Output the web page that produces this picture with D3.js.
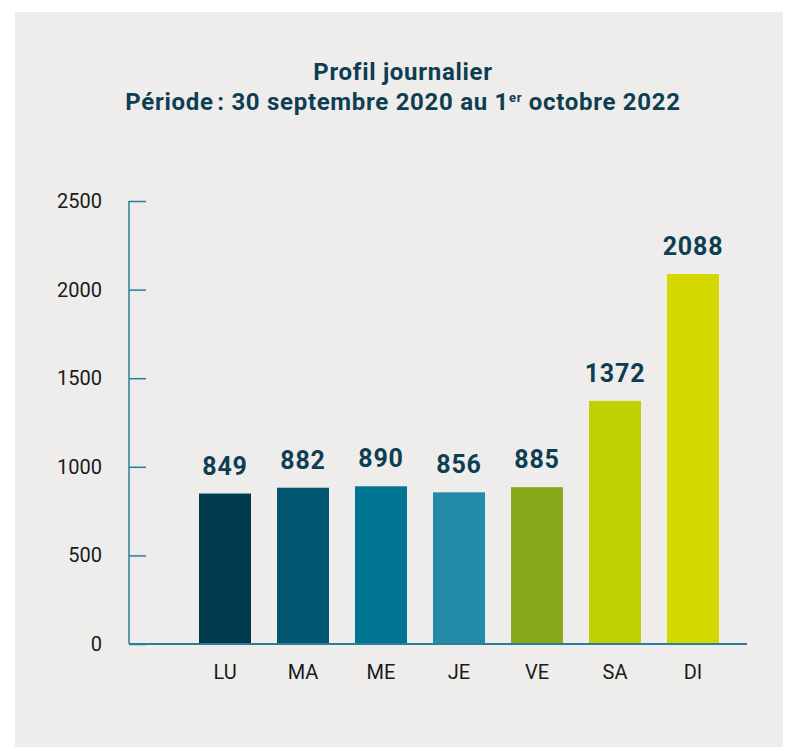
<!DOCTYPE html>
<html>
<head>
<meta charset="utf-8">
<script src="https://cdn.jsdelivr.net/npm/d3@7"></script>
<style>
	body { margin:0; background:#fff; }
	text { font-family: Roboto, "DejaVu Sans", sans-serif; }
</style>
</head>
<body>
<div id="chart"></div>
<script>

// data
const days = ["LU", "MA", "ME", "JE", "VE", "SA", "DI"];
const values = [849, 882, 890, 856, 885, 1372, 2088];
const colors = ["#003b4d", "#00576f", "#007592", "#238ba8", "#8aa81b", "#bfd100", "#d5d800"];
const yTicks = [0, 500, 1000, 1500, 2000, 2500];

//sizing
const width = 785;
const height = 747;
const titleColor = "#0d3e52";
const axisColor = "#2b7d9a";

let svg = d3.select("#chart")
	.append("svg")
	.attr("width", width)
	.attr("height", height);

//panel
svg.append("rect")
	.attr("x", 15)
	.attr("y", 12)
	.attr("width", 768)
	.attr("height", 735)
	.attr("fill", "#eeedeb");

//title
svg.append("text")
	.attr("x", 403)
	.attr("y", 80)
	.attr("text-anchor", "middle")
	.attr("fill", titleColor)
	.style("font-weight", "bold")
	.style("font-size", "24px")
	.style("letter-spacing", "0.7px")
	.text("Profil journalier");

let sub = svg.append("text")
	.attr("x", 403)
	.attr("y", 110)
	.attr("text-anchor", "middle")
	.attr("fill", titleColor)
	.style("font-weight", "bold")
	.style("font-size", "24px")
	.style("letter-spacing", "0.7px");
sub.append("tspan").text("Période\u202F: 30 septembre 2020 au 1");
sub.append("tspan").attr("dy", -8).style("font-size", "13px").text("er");
sub.append("tspan").attr("dy", 8).text(" octobre 2022");

//scales
let y = d3.scaleLinear()
	.domain([0, 2500])
	.range([644, 201]);

let x = d3.scaleBand()
	.domain(days)
	.range([186, 732])
	.paddingInner(1/3)
	.paddingOuter(1/6);

//y axis
let yAxis = svg.append("g")
	.attr("transform", "translate(129,0)")
	.call(d3.axisRight(y).tickValues(yTicks).tickSize(17).tickFormat(d3.format("d")));
yAxis.select(".domain").remove();
yAxis.selectAll(".tick line").attr("stroke", axisColor).attr("stroke-width", 1.5);
yAxis.selectAll(".tick text")
	.attr("x", -27)
	.attr("text-anchor", "end")
	.attr("fill", "#1a1a1a")
	.style("font-size", "20px");

svg.append("line")
	.attr("x1", 129).attr("x2", 129)
	.attr("y1", y(2500)).attr("y2", y(0))
	.attr("stroke", axisColor)
	.attr("stroke-width", 1.5);

//bars
svg.append("g")
	.selectAll("rect")
	.data(values)
	.enter().append("rect")
	.attr("x", (d, i) => x(days[i]))
	.attr("y", d => y(d))
	.attr("width", x.bandwidth())
	.attr("height", d => y(0) - y(d))
	.attr("fill", (d, i) => colors[i]);

//x axis line
svg.append("line")
	.attr("x1", 129).attr("x2", 747)
	.attr("y1", y(0)).attr("y2", y(0))
	.attr("stroke", axisColor)
	.attr("stroke-width", 2);

//x labels
let xAxis = svg.append("g")
	.attr("transform", "translate(0," + y(0) + ")")
	.call(d3.axisBottom(x).tickSize(0));
xAxis.select(".domain").remove();
xAxis.selectAll(".tick text")
	.attr("y", 35)
	.attr("dy", 0)
	.attr("fill", "#1a1a1a")
	.style("font-size", "20px");

//value labels
svg.append("g")
	.selectAll("text")
	.data(values)
	.enter().append("text")
	.attr("x", (d, i) => x(days[i]) + x.bandwidth() / 2)
	.attr("y", d => y(d) - 19)
	.attr("text-anchor", "middle")
	.attr("fill", titleColor)
	.style("font-weight", "bold")
	.style("font-size", "25px")
	.style("letter-spacing", "0.8px")
	.text(d => d);

</script>
</body>
</html>
